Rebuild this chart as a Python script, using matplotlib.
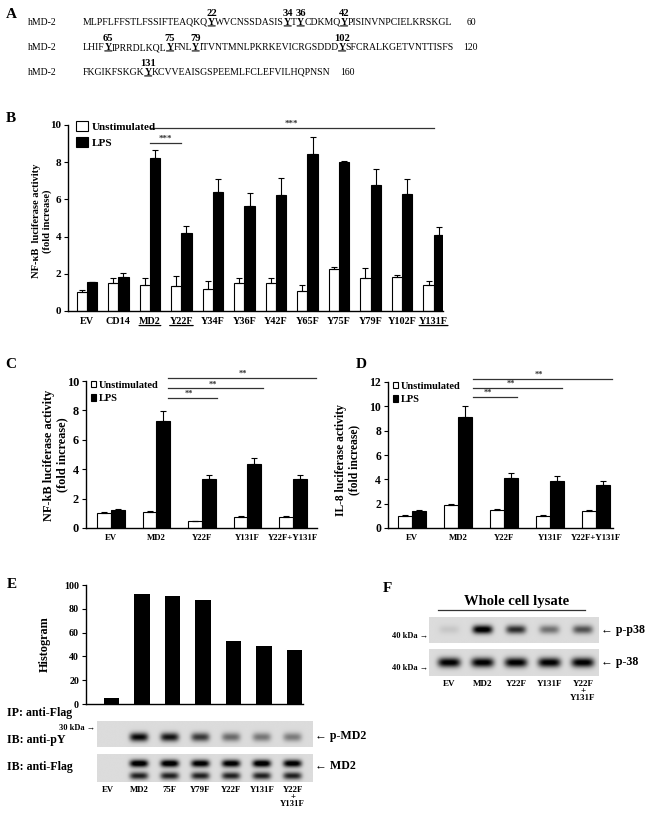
import numpy as np
import matplotlib
matplotlib.use("Agg")
import matplotlib.pyplot as plt

W, H = 651, 813

plt.rcParams["font.family"] = ["Liberation Serif", "DejaVu Serif"]
plt.rcParams["font.weight"] = "bold"
plt.rcParams["axes.linewidth"] = 1.0

# ---------- A: sequence ----------
seq_name = "hMD-2"
seq_lines = [
    "MLPFLFFSTLFSSIFTEAQKQYWVCNSSDASISYTYCDKMQYPISINVNPCIELKRSKGL",
    "LHIFYIPRRDLKQLYFNLYITVNTMNLPKRKEVICRGSDDDYSFCRALKGETVNTTISFS",
    "FKGIKFSKGKYKCVVEAISGSPEEMLFCLEFVILHQPNSN",
]
seq_ends = ["60", "120", "160"]
tyr_sites = [22, 34, 36, 42, 65, 75, 79, 102, 131]

# ---------- B: NF-kB, single mutants ----------
b_groups = ["EV", "CD14", "MD2", "Y22F", "Y34F", "Y36F", "Y42F",
            "Y65F", "Y75F", "Y79F", "Y102F", "Y131F"]
b_unstim = [1.0, 1.5, 1.38, 1.32, 1.18, 1.52, 1.5, 1.05, 2.25, 1.8, 1.85, 1.38]
b_unstim_err = [0.12, 0.3, 0.42, 0.55, 0.45, 0.28, 0.3, 0.35, 0.12, 0.52, 0.06, 0.22]
b_lps = [1.55, 1.85, 8.25, 4.22, 6.42, 5.62, 6.25, 8.45, 8.0, 6.78, 6.3, 4.08]
b_lps_err = [0.0, 0.2, 0.4, 0.35, 0.7, 0.7, 0.92, 0.92, 0.08, 0.85, 0.82, 0.45]
b_underlined = ["MD2", "Y22F", "Y131F"]

# ---------- C / D: NF-kB and IL-8, double mutant ----------
cd_groups = ["EV", "MD2", "Y22F", "Y131F", "Y22F+Y131F"]
c_unstim = [1.0, 1.1, 0.45, 0.75, 0.72]
c_unstim_err = [0.08, 0.08, 0.05, 0.07, 0.07]
c_lps = [1.2, 7.25, 3.3, 4.35, 3.3]
c_lps_err = [0.12, 0.7, 0.32, 0.4, 0.32]
d_unstim = [1.0, 1.85, 1.48, 1.0, 1.38]
d_unstim_err = [0.08, 0.15, 0.12, 0.08, 0.1]
d_lps = [1.38, 9.1, 4.1, 3.9, 3.5]
d_lps_err = [0.12, 0.9, 0.38, 0.38, 0.35]

# ---------- E: histogram + blots ----------
e_lanes = ["EV", "MD2", "75F", "Y79F", "Y22F", "Y131F", "Y22F\n+\nY131F"]
e_hist = [5, 92.5, 90.5, 87.5, 53, 49, 45]
e_py = [0.0, 0.85, 0.8, 0.65, 0.45, 0.4, 0.38]
e_flag_top = [0.0, 1.0, 1.0, 0.95, 0.95, 1.0, 0.95]
e_flag_bottom = [0.0, 0.75, 0.75, 0.75, 0.75, 0.75, 0.75]

# ---------- F: p38 blots ----------
f_lanes = ["EV", "MD2", "Y22F", "Y131F", "Y22F\n+\nY131F"]
f_pp38 = [0.08, 0.95, 0.7, 0.42, 0.55]
f_p38 = [0.9, 0.9, 0.9, 0.9, 0.9]


fig = plt.figure(figsize=(W / 100, H / 100), dpi=100)


def add_ax(left, top, right, bottom):
    # axes placed by pixel box (y counted from the top)
    return fig.add_axes([left / W, 1 - bottom / H, (right - left) / W, (bottom - top) / H])


# overlay in pixel units for free text and lines
ov = fig.add_axes([0, 0, 1, 1], zorder=10)
ov.set_xlim(0, W)
ov.set_ylim(H, 0)
ov.set_axis_off()


def underline(ax, txt, frac=0.1, lw=0.8):
    ax.annotate("", xy=(1, frac), xycoords=txt, xytext=(0, frac), textcoords=txt,
                arrowprops=dict(arrowstyle="-", lw=lw, color="black",
                                shrinkA=0, shrinkB=0))


# ---------- panel letters ----------
for letter, (x, y) in zip("ABCDEF", [(11, 14), (11, 118), (11, 364), (361, 364),
                                     (12, 584), (387, 588)]):
    ov.text(x, y, letter, fontsize=11, ha="center", va="center")

# ---------- A ----------
row_y = [27, 52, 77]
end_x = [467, 463, 340]
seq_fs = 7.0
for k, line in enumerate(seq_lines):
    ov.text(28, row_y[k], seq_name, fontsize=seq_fs, fontweight="normal",
            ha="left", va="bottom")
    start = 60 * k
    sites = [s - start - 1 for s in tyr_sites if start < s <= start + len(line)]
    pieces = []
    prev = 0
    for idx in sites:
        if idx > prev:
            pieces.append((line[prev:idx], None))
        pieces.append((line[idx], start + idx + 1))
        prev = idx + 1
    pieces.append((line[prev:], None))
    last = None
    for s, site in pieces:
        kw = dict(fontsize=seq_fs, fontweight="normal" if site is None else "bold",
                  ha="left", va="bottom")
        if last is None:
            last = ov.text(83, row_y[k], s, **kw)
        else:
            last = ov.annotate(s, xy=(1, 0), xycoords=last, **kw)
        if site is not None:
            underline(ov, last, frac=0.12)
            ov.annotate(str(site), xy=(0.5, 1), xycoords=last, xytext=(0, 0.3),
                        textcoords="offset points", ha="center", va="bottom",
                        fontsize=7.6)
    ov.text(end_x[k], row_y[k], seq_ends[k], fontsize=seq_fs, fontweight="normal",
            ha="left", va="bottom")


def bar_panel(ax, groups, unstim, unstim_err, lps, lps_err, width=0.3):
    x = np.arange(len(groups))
    n = len(groups)
    ekw = dict(ecolor="black", elinewidth=0.8, capsize=2, capthick=0.8)
    ax.bar(x - width / 2, unstim, width, color="white", edgecolor="black", lw=0.8,
           yerr=[np.zeros(n), unstim_err], error_kw=ekw, label="Unstimulated")
    ax.bar(x + width / 2, lps, width, color="black", edgecolor="black", lw=0.8,
           yerr=[np.zeros(n), lps_err], error_kw=ekw, label="LPS")
    ax.spines[["top", "right"]].set_visible(False)
    ax.set_xticks(x)
    ax.tick_params(axis="x", length=0, pad=4)
    ax.tick_params(axis="y", length=3, width=0.8, direction="out", pad=2)
    return x


def sig_line(ax, x0, x1, y, stars, fs=6, color="#333333", lw=0.9, xs=None):
    ax.plot([x0, x1], [y, y], color=color, lw=lw, clip_on=False)
    ax.text((x0 + x1) / 2 if xs is None else xs, y, stars, ha="center", va="bottom",
            fontsize=fs, color=color, clip_on=False)


# ---------- B ----------
axB = add_ax(68, 125, 443, 311)
bar_panel(axB, b_groups, b_unstim, b_unstim_err, b_lps, b_lps_err, width=0.32)
axB.set_xlim(-0.6, 11.3)
axB.set_ylim(0, 10)
axB.set_yticks([0, 2, 4, 6, 8, 10])
labs = axB.set_xticklabels(b_groups, fontsize=7.3)
for lab, name in zip(labs, b_groups):
    if name in b_underlined:
        underline(axB, lab, frac=0.0, lw=0.9)
axB.tick_params(axis="y", labelsize=8)
axB.legend(loc="upper left", bbox_to_anchor=(0.02, 1.02), frameon=False,
           handlelength=1.1, handleheight=0.9, handletextpad=0.4,
           labelspacing=0.5, borderpad=0, borderaxespad=0,
           prop=dict(weight="bold", size=8))
sig_line(axB, b_groups.index("MD2"), b_groups.index("Y131F"), 9.84, "***", fs=6.5)
sig_line(axB, b_groups.index("MD2"), b_groups.index("Y22F"), 9.03, "***", fs=6.5)
ov.text(42, 221, "NF-\u03baB  luciferase activity\n(fold increase)", rotation=90,
        ha="center", va="center", fontsize=7.6, linespacing=1.25, multialignment="center")

# ---------- C ----------
axC = add_ax(86, 381, 317, 528)
bar_panel(axC, cd_groups, c_unstim, c_unstim_err, c_lps, c_lps_err)
axC.set_xlim(-0.55, 4.53)
axC.set_ylim(0, 10)
axC.set_yticks([0, 2, 4, 6, 8, 10])
axC.set_xticklabels(cd_groups, fontsize=6.3)
axC.tick_params(axis="y", labelsize=8.8)
axC.legend(loc="upper left", bbox_to_anchor=(0.02, 1.0), frameon=False,
           handlelength=0.55, handleheight=0.55, handletextpad=0.25,
           labelspacing=0.4, borderpad=0, borderaxespad=0,
           prop=dict(weight="bold", size=7.5))
sig_line(axC, 1.25, 4.5, 10.2, "**", xs=2.9)
sig_line(axC, 1.25, 3.35, 9.5, "**", xs=2.25)
sig_line(axC, 1.25, 2.33, 8.85, "**", xs=1.72)
ov.text(56, 455, "NF-kB luciferase activity\n(fold increase)", rotation=90,
        ha="center", va="center", fontsize=8.8, linespacing=1.15, multialignment="center")

# ---------- D ----------
axD = add_ax(388, 382, 613, 528)
bar_panel(axD, cd_groups, d_unstim, d_unstim_err, d_lps, d_lps_err)
axD.set_xlim(-0.52, 4.37)
axD.set_ylim(0, 12)
axD.set_yticks([0, 2, 4, 6, 8, 10, 12])
axD.set_xticklabels(cd_groups, fontsize=6.3)
axD.tick_params(axis="y", labelsize=8.4)
axD.legend(loc="upper left", bbox_to_anchor=(0.02, 1.0), frameon=False,
           handlelength=0.55, handleheight=0.55, handletextpad=0.25,
           labelspacing=0.4, borderpad=0, borderaxespad=0,
           prop=dict(weight="bold", size=7.5))
sig_line(axD, 1.33, 4.35, 12.25, "**", xs=2.75)
sig_line(axD, 1.33, 3.26, 11.5, "**", xs=2.15)
sig_line(axD, 1.33, 2.28, 10.76, "**", xs=1.65)
ov.text(348, 460, "IL-8 luciferase activity\n(fold increase)", rotation=90,
        ha="center", va="center", fontsize=8.4, linespacing=1.15, multialignment="center")

# ---------- E: histogram ----------
axE = add_ax(86, 585, 303, 704)
xe = np.arange(len(e_lanes))
axE.bar(xe, e_hist, 0.5, color="black")
axE.set_xlim(-0.84, 6.28)
axE.set_ylim(0, 100)
axE.set_yticks(range(0, 101, 20))
axE.set_xticks([])
axE.spines[["top", "right"]].set_visible(False)
axE.tick_params(axis="y", length=3, width=0.8, labelsize=7.2, pad=2)
ov.text(45, 644, "Histogram", rotation=90, ha="center", va="center", fontsize=8.8)


def blot(ax, rows, centers, xlim, bw=0.3, bh=0.13, bg=0.14):
    gx = np.linspace(xlim[0], xlim[1], 400)
    gy = np.linspace(0, 1, 80)
    X, Y = np.meshgrid(gx, gy)
    img = np.full(X.shape, bg)
    for vals, yc in zip(rows, centers):
        for i, v in enumerate(vals):
            img += v * np.exp(-((X - i) / bw) ** 4) * np.exp(-((Y - yc) / bh) ** 2)
    ax.imshow(np.clip(img, 0, 1), cmap="gray_r", vmin=0, vmax=1, origin="lower",
              extent=(xlim[0], xlim[1], 0, 1), aspect="auto", interpolation="bilinear")
    ax.set_axis_off()


def lane_labels(ax, lanes, fs=6.3):
    for i, name in enumerate(lanes):
        ax.annotate(name, xy=(i, 0), xycoords=("data", "axes fraction"),
                    xytext=(0, -3), textcoords="offset points", ha="center", va="top",
                    fontsize=fs, linespacing=0.85, annotation_clip=False)


e_xlim = (-0.36, 6.66)
axE1 = add_ax(97, 721, 313, 747)
blot(axE1, [e_py], [0.38], e_xlim, bh=0.17)
axE2 = add_ax(97, 754, 313, 782)
blot(axE2, [e_flag_top, e_flag_bottom], [0.64, 0.21], e_xlim, bh=0.13)
lane_labels(axE2, e_lanes)

ov.text(7, 713, "IP: anti-Flag", fontsize=8.6, ha="left", va="center")
ov.text(7, 740, "IB: anti-pY", fontsize=8.6, ha="left", va="center")
ov.text(7, 767, "IB: anti-Flag", fontsize=8.6, ha="left", va="center")
ov.text(95, 728, "30 kDa \u2192", fontsize=6, ha="right", va="center")
ov.text(315, 736, "\u2190 p-MD2", fontsize=8.6, ha="left", va="center")
ov.text(315, 766, "\u2190 MD2", fontsize=8.6, ha="left", va="center")

# ---------- F ----------
f_xlim = (-0.6, 4.48)
axF1 = add_ax(429, 617, 599, 643)
blot(axF1, [f_pp38], [0.5], f_xlim, bh=0.16)
axF2 = add_ax(429, 649, 599, 676)
blot(axF2, [f_p38], [0.5], f_xlim, bw=0.34, bh=0.18)
lane_labels(axF2, f_lanes, fs=6.5)
ov.text(517, 601, "Whole cell lysate", fontsize=10.5, ha="center", va="center")
ov.plot([438, 585], [610, 610], color="#333333", lw=0.9)
ov.text(428, 636, "40 kDa \u2192", fontsize=6, ha="right", va="center")
ov.text(428, 668, "40 kDa \u2192", fontsize=6, ha="right", va="center")
ov.text(601, 630, "\u2190 p-p38", fontsize=8.6, ha="left", va="center")
ov.text(601, 662, "\u2190 p-38", fontsize=8.6, ha="left", va="center")

fig.savefig("out.png", dpi=100)
